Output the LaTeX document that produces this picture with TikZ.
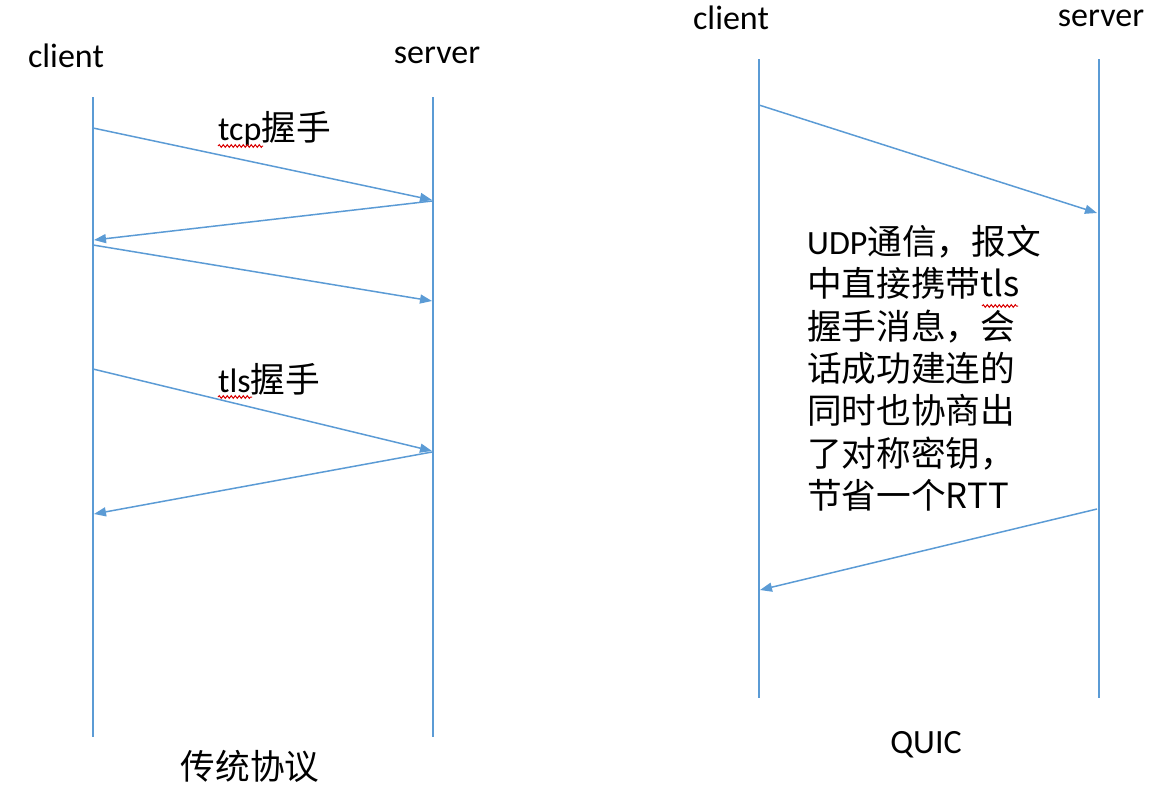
\documentclass[tikz,border=0pt]{standalone}
\usepackage{fontspec}
\setmainfont{Carlito}
\newfontfamily\cjk[Scale=1.02]{Noto Sans CJK SC}
\usetikzlibrary{arrows.meta}
\usetikzlibrary{decorations.pathmorphing}
\definecolor{lineblue}{RGB}{91,155,213}

\tikzset{
  lifeline/.style={draw=lineblue, line width=1.5pt},
  msg/.style={draw=lineblue, line width=1.5pt, -{Triangle[length=12pt,width=9pt]}},
  lbl/.style={inner sep=0pt, font=\fontsize{34}{42.3}\selectfont},
  spellmark/.style={draw=red!85!black, line width=1pt, decorate,
    decoration={snake, segment length=4pt, amplitude=1.3pt}}
}

\begin{document}
\begin{tikzpicture}[x=1pt,y=-1pt]
            \useasboundingbox (0,0) rectangle (1176,804);
            \node [lbl, anchor=base] (lclient) at (66,67) {client};
            \node [lbl, anchor=base] (lserver) at (437,63) {server};
            \node [lbl, anchor=base] (qclient) at (731,29) {client};
            \node [lbl, anchor=base] (qserver) at (1101,26) {server};
            \node [lbl, anchor=base west] (tcphs) at (218,140) {tcp\cjk{握手}};
            \node [lbl, anchor=base west] (tlshs) at (218,392) {tls\cjk{握手}};
            \node [lbl] (ltitle) at (250,766) {\cjk{传统协议}};
            \node [lbl, anchor=base] (qtitle) at (926,753) {QUIC};
            \node [lbl, anchor=north west, align=left] (qnote) at (807,225)
            {UDP\cjk{通信，报文}\\\cjk{中直接携带}tls\\\cjk{握手消息，会}\\
             \cjk{话成功建连的}\\\cjk{同时也协商出}\\\cjk{了对称密钥，}\\\cjk{节省一个}RTT};

            \coordinate (lctop) at (93,97);   \coordinate (lcbot) at (93,737);
            \coordinate (lstop) at (433,97);  \coordinate (lsbot) at (433,737);
            \coordinate (qctop) at (759,59);  \coordinate (qcbot) at (759,698);
            \coordinate (qstop) at (1099,59); \coordinate (qsbot) at (1099,698);
            \draw [lifeline] (lctop) -- (lcbot);
            \draw [lifeline] (lstop) -- (lsbot);
            \draw [lifeline] (qctop) -- (qcbot);
            \draw [lifeline] (qstop) -- (qsbot);

            \coordinate (lc1) at (93,128);  \coordinate (ls1) at (432,200);
            \coordinate (ls2) at (432,201); \coordinate (lc2) at (94,240);
            \coordinate (lc3) at (93,245);  \coordinate (ls3) at (432,301);
            \coordinate (lc4) at (93,369);  \coordinate (ls4) at (432,451);
            \coordinate (ls5) at (432,452); \coordinate (lc5) at (94,514);
            \coordinate (qc1) at (759,105); \coordinate (qs1) at (1097,213);
            \coordinate (qs2) at (1097,509); \coordinate (qc2) at (760,590);
            \draw [msg] (lc1) -- (ls1);
            \draw [msg] (ls2) -- (lc2);
            \draw [msg] (lc3) -- (ls3);
            \draw [msg] (lc4) -- (ls4);
            \draw [msg] (ls5) -- (lc5);
            \draw [msg] (qc1) -- (qs1);
            \draw [msg] (qs2) -- (qc2);

            \draw [spellmark] ([yshift=-6pt]tcphs.base west) -- ++(45,0);
            \draw [spellmark] ([yshift=-5pt]tlshs.base west) -- ++(34,0);
            \draw [spellmark] (982,306) -- ++(36,0);
        \end{tikzpicture}
\end{document}
